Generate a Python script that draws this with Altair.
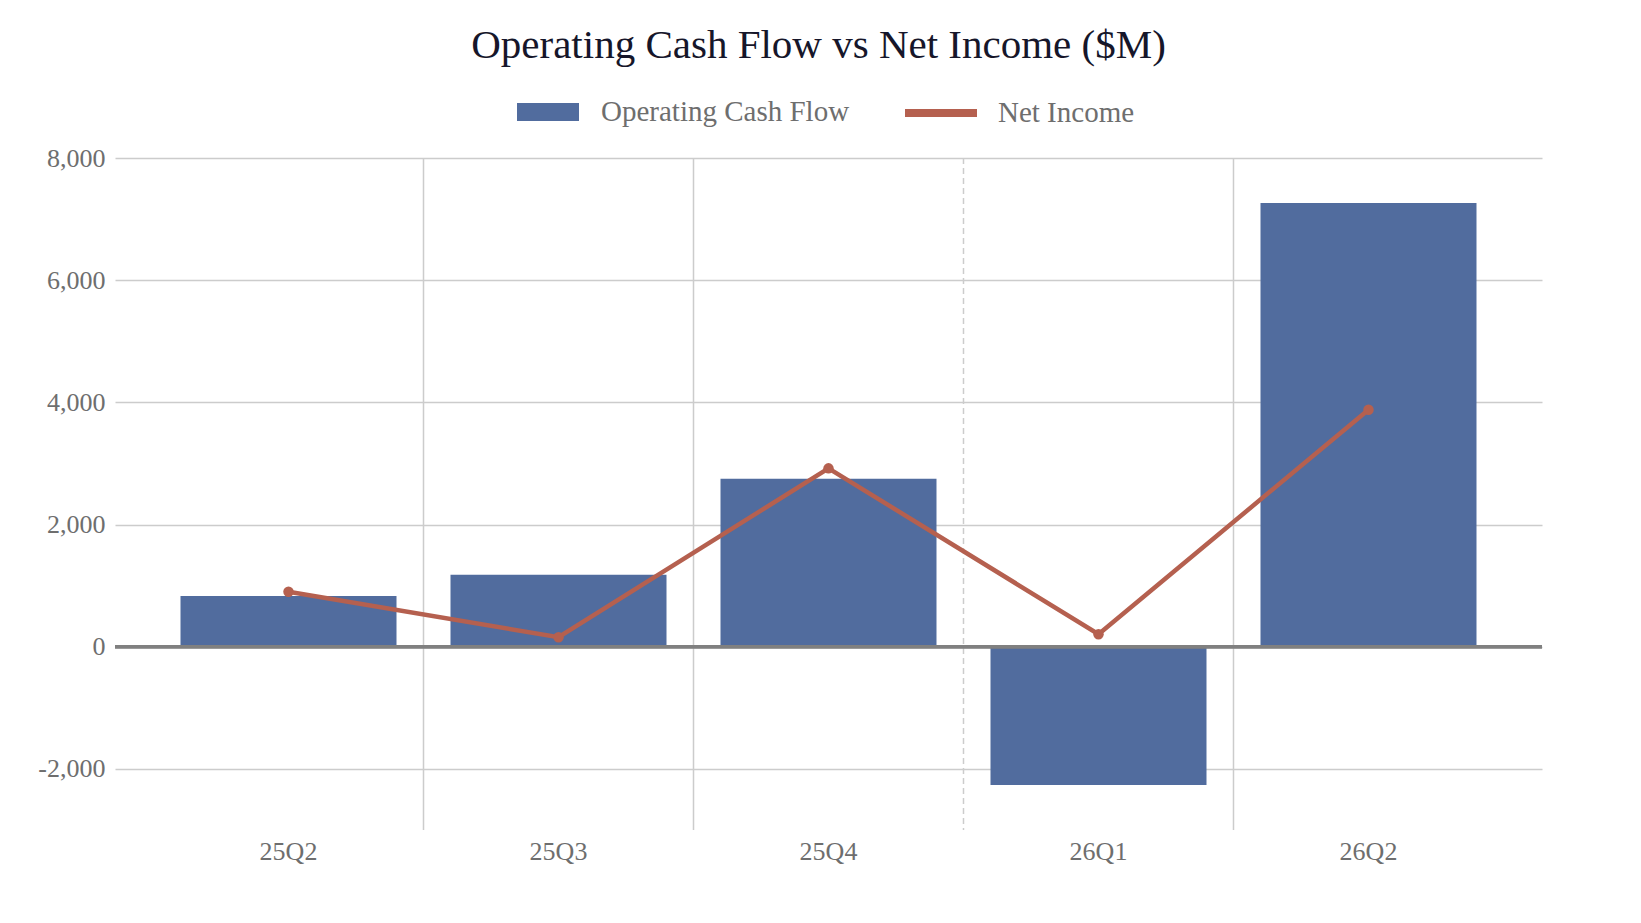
import pandas as pd
import altair as alt

# quarterly figures, $M
quarters = ["25Q2", "25Q3", "25Q4", "26Q1", "26Q2"]
operating_cash_flow = [830, 1180, 2750, -2265, 7265]
net_income = [900, 155, 2920, 205, 3880]

# vertical separators: start of each band after the first
separator_quarters = ["25Q3", "25Q4", "26Q1", "26Q2"]
separator_kind = ["solid", "solid", "dashed", "solid"]

y_ticks = [-2000, 0, 2000, 4000, 6000, 8000]

BLUE = "#516c9e"
RED = "#b5604f"
FONT = "Georgia, Liberation Serif, serif"

ocf_df = pd.DataFrame({"quarter": quarters, "value": operating_cash_flow,
                       "series": "Operating Cash Flow"})
ni_df = pd.DataFrame({"quarter": quarters, "value": net_income,
                      "series": "Net Income"})
sep_df = pd.DataFrame({"quarter": separator_quarters, "kind": separator_kind})

x_scale = alt.Scale(domain=quarters, paddingInner=0, paddingOuter=0.1426)
x_axis = alt.Axis(title=None, domain=False, ticks=False, grid=False,
                  labelFont=FONT, labelFontSize=26, labelColor="#6e6e6e",
                  labelPadding=8, labelAngle=0)
y_scale = alt.Scale(domain=[-3000, 8000], nice=False, zero=False)
# plain hyphen for negatives, as in the original
y_axis = alt.Axis(title=None, values=y_ticks, domain=False, ticks=False,
                  labelExpr="replace(format(datum.value, ',.0f'), '\u2212', '-')",
                  gridColor="#cccccc", gridWidth=1.5,
                  labelFont=FONT, labelFontSize=26, labelColor="#6e6e6e",
                  labelPadding=10)

# vertical grid lines between quarters
separators = alt.Chart(sep_df).mark_rule(color="#cccccc", strokeWidth=1.5).encode(
    x=alt.X("quarter:N", scale=x_scale, axis=x_axis, bandPosition=0),
    strokeDash=alt.StrokeDash("kind:N",
                              scale=alt.Scale(domain=["solid", "dashed"],
                                              range=[[1, 0], [6, 4]]),
                              legend=None),
)

bars = alt.Chart(ocf_df).mark_bar(width=alt.RelativeBandSize(0.8)).encode(
    x=alt.X("quarter:N", scale=x_scale, axis=x_axis),
    y=alt.Y("value:Q", scale=y_scale, axis=y_axis),
    fill=alt.Fill("series:N",
                  scale=alt.Scale(domain=["Operating Cash Flow"], range=[BLUE]),
                  legend=alt.Legend(title=None, orient="none", legendX=402, legendY=-77,
                                    symbolType="M-1,-0.29H1V0.29H-1Z", symbolSize=3844,
                                    symbolStrokeWidth=0, labelOffset=22, labelLimit=400,
                                    labelFont=FONT, labelFontSize=29,
                                    labelColor="#6e6e6e")),
)

zero_line = alt.Chart(ocf_df).mark_rule(color="#808080", strokeWidth=3).encode(
    y=alt.datum(0, scale=y_scale, axis=y_axis),
)

line = alt.Chart(ni_df).mark_line(strokeWidth=4.5).encode(
    x=alt.X("quarter:N", scale=x_scale, axis=x_axis),
    y=alt.Y("value:Q", scale=y_scale, axis=y_axis),
    stroke=alt.Stroke("series:N",
                      scale=alt.Scale(domain=["Net Income"], range=[RED]),
                      legend=alt.Legend(title=None, orient="none", legendX=786, legendY=-85,
                                        symbolType="stroke", symbolSize=5184,
                                        symbolStrokeWidth=8, labelOffset=17, labelLimit=400,
                                        labelFont=FONT, labelFontSize=29,
                                        labelColor="#6e6e6e")),
)

points = alt.Chart(ni_df).mark_circle(color=RED, size=110, opacity=1).encode(
    x=alt.X("quarter:N", scale=x_scale, axis=x_axis),
    y=alt.Y("value:Q", scale=y_scale, axis=y_axis),
)

chart = alt.layer(separators, bars, zero_line, line, points).properties(
    width=1427,
    height=672,
    padding={"left": 107, "top": 150, "right": 91, "bottom": 85},
    autosize=alt.AutoSizeParams(type="none"),
    title=alt.TitleParams("Operating Cash Flow vs Net Income ($M)", font=FONT,
                          fontSize=41, fontWeight="normal", color="#16162a",
                          anchor="middle", offset=6, dx=-10),
).configure_view(
    strokeWidth=0
).resolve_scale(
    fill="independent", stroke="independent"
)

chart.save("out.html", embed_options={"renderer": "svg", "actions": False})
